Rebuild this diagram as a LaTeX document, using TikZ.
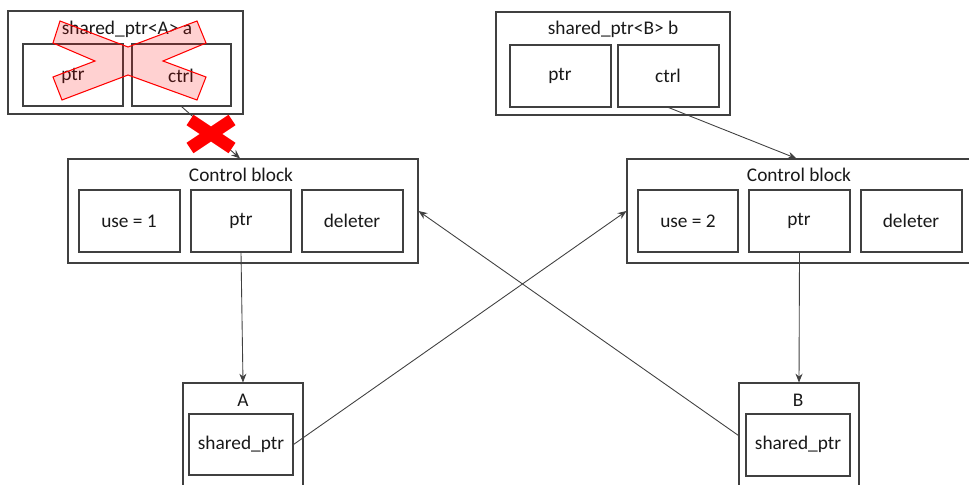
\documentclass[tikz,border=0pt]{standalone}
\usepackage{fontspec}
\setmainfont{Carlito}
\usetikzlibrary{fit,calc,arrows.meta}
\definecolor{edge}{HTML}{404040}
\begin{document}
\begin{tikzpicture}[x=0.02cm,y=-0.02cm,
  box/.style={draw=edge,line width=0.6pt,inner sep=0pt},
  txt/.style={font=\fontsize{11}{13}\selectfont,text=black!90,inner sep=0pt},
  arr/.style={draw=edge,line width=0.5pt,-{Stealth[length=5pt,width=4pt]}}]
\useasboundingbox (0,0) rectangle (969,484);
\clip (0,0) rectangle (969,484);
% shared_ptr<A> a
\node[box,fit={(8,11) (243,114)}] (sa) {};
\node[txt] (satitle) at (127,29) {shared\_ptr<A> a};
\node[box,fit={(23,44) (123,106)}] (aptr) {};
\node[txt] at (73,76) {ptr};
\node[box,fit={(132,44) (231,106)}] (actrl) {};
\node[txt] at (181,76) {ctrl};
% shared_ptr<B> b
\node[box,fit={(496,12) (730,115)}] (sb) {};
\node[txt] (sbtitle) at (613,29) {shared\_ptr<B> b};
\node[box,fit={(510,45) (611,107)}] (bptr) {};
\node[txt] at (560,76) {ptr};
\node[box,fit={(618,45) (719,107)}] (bctrl) {};
\node[txt] at (668,76) {ctrl};
% control block left
\node[box,fit={(68,159) (418,263)}] (cbL) {};
\node[txt] at (241,175) {Control block};
\node[box,fit={(79,190) (180,252)}] (useL) {};
\node[txt] at (129,221) {use = 1};
\node[box,fit={(191,190) (291,252)}] (ptrL) {};
\node[txt] at (241,221) {ptr};
\node[box,fit={(302,190) (403,252)}] (delL) {};
\node[txt] at (352,221) {deleter};
% control block right
\node[box,fit={(627,159) (977,263)}] (cbR) {};
\node[txt] at (799,175) {Control block};
\node[box,fit={(638,190) (738,252)}] (useR) {};
\node[txt] at (688,221) {use = 2};
\node[box,fit={(749,190) (850,252)}] (ptrR) {};
\node[txt] at (799,221) {ptr};
\node[box,fit={(861,190) (962,252)}] (delR) {};
\node[txt] at (911,221) {deleter};
% A
\node[box,fit={(183,383) (303,488)}] (A) {};
\node[txt] at (243,400) {A};
\node[box,fit={(189,414) (293,475)}] (Asp) {};
\node[txt] at (241,444) {shared\_ptr};
% B
\node[box,fit={(739,383) (859,488)}] (B) {};
\node[txt] at (798,400) {B};
\node[box,fit={(746,414) (850,476)}] (Bsp) {};
\node[txt] at (798,444) {shared\_ptr};
% connectors
\draw[arr] (actrl.south) -- ($(cbL.north)+(-3,0)$);
\draw[arr] (bctrl.south) -- ($(cbR.north west)+(170,0)$);
\draw[arr] (ptrL.south) -- (A.north);
\draw[arr] (ptrR.south) -- (B.north);
\draw[arr] (Asp.east) -- (cbR.west);
\draw[arr] (B.west) -- (cbL.east);
% pink cross over shared_ptr<A> a
\draw[red,line width=0.6pt,fill=red,fill opacity=0.18]
  (60,21) -- (128,47) -- (197,21) -- (206,43) -- (163,61) -- (206,77) -- (197,100)
  -- (128,75) -- (62,100) -- (53,77) -- (95,61) -- (53,43) -- cycle;
% big red X on the connector
\draw[red,line width=0.25cm] (190,120) -- (232,148) (232,120) -- (190,148);
\end{tikzpicture}
\end{document}
